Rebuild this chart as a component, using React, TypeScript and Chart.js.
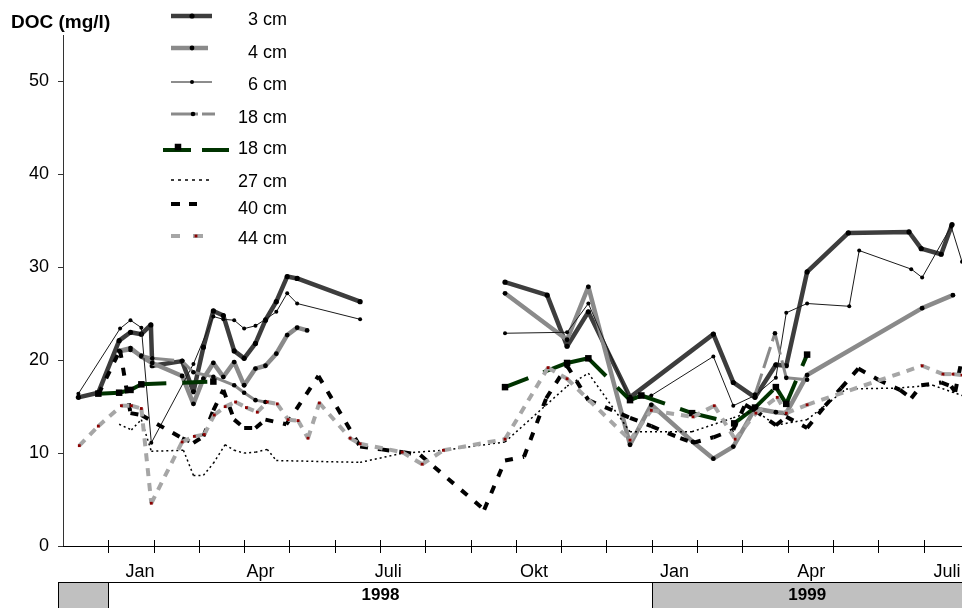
import React, { useEffect, useRef } from 'react';
import { Chart, registerables } from 'chart.js';

Chart.register(...registerables);

const FONT = 'Arial, "Liberation Sans", Helvetica, sans-serif';

// x = months after 1 Dec 1997 (1 = 1 Jan 1998, 13 = 1 Jan 1999); null y = gap
const cm3X = [0.34, 0.78, 1.24, 1.49, 1.73, 1.94, 1.97, 2.63, 2.88, 3.10, 3.32, 3.54, 3.78, 4.00, 4.25, 4.47, 4.71, 4.95, 5.17, 6.56, 8.0, 9.76, 10.69, 11.13, 11.60, 12.52, 14.36, 14.80, 15.28, 15.74, 15.97, 16.43, 17.34, 18.68, 18.95, 19.39, 19.63];
const cm3Y = [16.0, 16.5, 22.1, 23.0, 22.8, 23.8, 19.4, 19.9, 16.6, 21.4, 25.3, 24.8, 21.0, 20.2, 21.8, 24.3, 26.3, 29.0, 28.8, 26.3, null, 28.4, 27.0, 21.5, 25.2, 16.0, 22.8, 17.6, 16.0, 19.5, 19.4, 29.5, 33.7, 33.8, 32.0, 31.4, 34.6];

const cm4X = [1.24, 1.49, 1.73, 1.97, 2.63, 2.88, 3.10, 3.32, 3.54, 3.78, 4.00, 4.25, 4.47, 4.71, 4.95, 5.17, 5.39, 8.0, 9.76, 11.13, 11.60, 12.52, 12.99, 13.91, 14.36, 14.80, 15.28, 15.74, 15.97, 16.43, 18.97, 19.65];
const cm4Y = [21.0, 21.3, 20.4, 19.7, 18.3, 15.3, 18.0, 19.7, 18.2, 19.8, 17.3, 19.1, 19.4, 20.7, 22.7, 23.5, 23.2, null, 27.2, 22.2, 27.9, 10.9, 15.2, 11.2, 9.4, 10.7, 14.8, 14.4, 14.3, 18.4, 25.6, 27.0];

const cm6X = [0.34, 1.26, 1.49, 1.73, 1.95, 2.88, 3.32, 3.54, 3.78, 4.00, 4.25, 4.47, 4.71, 4.95, 5.17, 6.56, 8.0, 9.76, 11.13, 11.60, 12.52, 12.99, 14.36, 14.80, 15.28, 15.74, 15.97, 16.43, 17.36, 17.58, 18.73, 18.97, 19.61, 19.85];
const cm6Y = [16.4, 23.4, 24.3, 23.5, 11.1, 19.6, 24.7, 24.4, 24.3, 23.4, 23.7, 24.4, 25.2, 27.2, 26.1, 24.4, null, 22.9, 23.0, 26.1, 15.7, 16.2, 20.4, 15.1, 16.2, 18.1, 25.1, 26.1, 25.8, 31.8, 29.8, 28.9, 34.4, 30.6];

const cm18aX = [1.26, 1.49, 1.73, 1.97, 2.63, 2.88, 3.32, 3.78, 4.00, 4.25, 4.47, 10.0, 15.28, 15.72, 15.97, 16.43];
const cm18aY = [20.9, 21.1, 20.5, 20.2, 19.9, 18.7, 18.2, 17.3, 16.5, 15.7, 15.5, null, 16.3, 22.9, 18.1, 17.9];

const cm18bX = [0.78, 1.24, 1.49, 1.73, 3.32, 6.5, 9.76, 11.13, 11.60, 12.52, 12.77, 13.89, 14.82, 15.28, 15.74, 15.97, 16.43];
const cm18bY = [16.4, 16.5, 16.8, 17.4, 17.7, null, 17.1, 19.7, 20.2, 15.7, 16.2, 14.3, 13.2, 14.9, 17.1, 15.3, 20.6];

const cm27X = [1.24, 1.51, 1.73, 1.95, 2.66, 2.88, 3.10, 3.32, 3.58, 3.78, 4.00, 4.25, 4.51, 4.71, 6.56, 7.51, 8.40, 9.76, 11.13, 11.60, 12.52, 13.89, 14.80, 15.28, 15.74, 16.43, 17.29, 18.42, 19.21, 19.85];
const cm27Y = [13.1, 12.5, 13.6, 10.2, 10.3, 7.6, 7.6, 8.9, 10.9, 10.3, 10.0, 10.1, 10.4, 9.2, 9.0, 10.0, 10.3, 11.2, 17.2, 18.6, 12.3, 12.3, 13.8, 14.6, 13.0, 13.6, 16.9, 17.0, 17.3, 16.2];

const cm40X = [0.78, 1.26, 1.49, 1.73, 2.63, 2.88, 3.10, 3.32, 3.54, 3.78, 4.00, 4.25, 4.47, 4.93, 5.64, 6.56, 7.03, 7.51, 7.89, 9.30, 9.76, 10.18, 10.67, 11.13, 11.60, 12.52, 12.99, 13.63, 13.91, 14.36, 14.80, 15.06, 15.28, 15.74, 15.97, 16.43, 16.83, 17.18, 17.56, 18.00, 18.48, 18.73, 18.95, 19.39, 19.61, 19.70, 19.85];
const cm40Y = [16.3, 21.1, 14.3, 14.1, 11.6, 11.1, 11.8, 14.6, 16.8, 13.6, 12.7, 12.7, 13.6, 13.1, 18.3, 10.7, 10.4, 10.1, 9.8, 3.9, 9.2, 9.6, 15.9, 19.4, 15.7, 13.8, 12.9, 11.6, 11.1, 11.7, 12.5, 15.2, 14.6, 13.0, 13.9, 12.7, 15.1, 17.0, 19.1, 17.9, 16.8, 15.9, 17.3, 17.6, 17.2, 16.6, 20.2];

const cm44X = [0.36, 0.78, 1.29, 1.51, 1.73, 1.95, 2.63, 2.90, 3.12, 3.34, 3.58, 3.81, 4.05, 4.29, 4.51, 4.73, 4.97, 5.19, 5.41, 5.66, 6.34, 6.56, 7.49, 7.93, 8.40, 9.76, 10.71, 11.13, 12.52, 12.99, 13.91, 14.38, 14.84, 15.30, 15.77, 15.97, 16.43, 18.97, 19.43, 19.65, 19.85];
const cm44Y = [10.8, 12.9, 15.1, 15.1, 14.8, 4.6, 11.2, 11.8, 12.0, 14.1, 15.0, 15.5, 14.9, 14.4, 15.5, 15.3, 13.6, 13.5, 11.6, 15.4, 11.6, 11.0, 10.1, 8.8, 10.3, 11.5, 19.2, 18.0, 11.4, 14.6, 13.9, 15.1, 11.5, 14.3, 16.0, 14.3, 15.2, 19.4, 18.5, 18.5, 18.4];

const seriesLabels = ['3 cm', '4 cm', '6 cm', '18 cm', '18 cm', '27 cm', '40 cm', '44 cm'];
const seriesX = [cm3X, cm4X, cm6X, cm18aX, cm18bX, cm27X, cm40X, cm44X];
const seriesY = [cm3Y, cm4Y, cm6Y, cm18aY, cm18bY, cm27Y, cm40Y, cm44Y];

const yTicks = [0, 10, 20, 30, 40, 50];
const monthLabels = ['Jan', 'Apr', 'Juli', 'Okt', 'Jan', 'Apr', 'Juli'];
const monthLabelPos = [1.70, 4.36, 7.18, 10.40, 13.50, 16.52, 19.52];
const yearLabels = ['', '1998', '1999'];
const yearStart = [-0.1, 1, 13];
const yearEnd = [1, 13, 19.85];
const X_MIN = 0;
const X_MAX = 19.85;
const Y_MAX = 55;

const styles = [
  { color: '#3d3d3d', width: 4.5, dash: [], pointStyle: 'circle', r: 2.6, pc: '#000' },
  { color: '#8a8a8a', width: 4.5, dash: [], pointStyle: 'circle', r: 2.4, pc: '#000' },
  { color: '#1a1a1a', width: 1, dash: [], pointStyle: 'circle', r: 2, pc: '#000' },
  { color: '#8a8a8a', width: 3, dash: [22, 6], pointStyle: 'circle', r: 2.3, pc: '#000' },
  { color: '#003300', width: 4, dash: [25, 16], pointStyle: 'rect', r: 4.6, pc: '#000' },
  { color: '#000000', width: 1.5, dash: [2, 3], pointStyle: 'circle', r: 0, pc: '#000' },
  { color: '#000000', width: 4, dash: [8, 10], pointStyle: 'circle', r: 0, pc: '#000' },
  { color: '#a6a6a6', width: 4, dash: [8, 7], pointStyle: 'rect', r: 2, pc: '#8b0000' },
];

// legend layout
const legRowY = [16, 48, 82, 114, 150, 180, 204, 236];
const legTextY = [20, 53, 85, 118, 149, 182, 209, 239];
const legPieces = [
  [[171, 212]], [[171, 208]], [[171, 212]], [[171, 198], [202, 215]],
  [[163, 191], [202, 229]], [[171, 212]], [[171, 180], [189, 197]], [[171, 180], [193, 203]],
];
const legMarkX = [192, 192, 192, 193, 178, 0, 0, 196];

function drawMarker(ctx, st, x, y) {
  if (!st.r) return;
  ctx.save();
  ctx.fillStyle = st.pc;
  if (st.pointStyle === 'rect') {
    const s = st.r * Math.SQRT1_2;
    ctx.fillRect(x - s, y - s, 2 * s, 2 * s);
  } else {
    ctx.beginPath();
    ctx.arc(x, y, st.r, 0, Math.PI * 2);
    ctx.fill();
  }
  ctx.restore();
}

const decorPlugin = {
  id: 'decor',
  afterDraw(chart) {
    const ctx = chart.ctx;
    const xs = chart.scales.x;
    const { left, right, bottom } = chart.chartArea;
    ctx.save();
    // x axis
    ctx.strokeStyle = '#000';
    ctx.lineWidth = 1;
    ctx.setLineDash([]);
    ctx.beginPath();
    ctx.moveTo(left, bottom + 0.5);
    ctx.lineTo(right, bottom + 0.5);
    ctx.stroke();
    for (let m = 1; m <= Math.floor(X_MAX); m++) {
      const px = Math.round(xs.getPixelForValue(m)) + 0.5;
      ctx.beginPath();
      ctx.moveTo(px, bottom - 6);
      ctx.lineTo(px, bottom + 7);
      ctx.stroke();
    }
    ctx.fillStyle = '#000';
    ctx.font = `18px ${FONT}`;
    ctx.textAlign = 'center';
    ctx.textBaseline = 'middle';
    monthLabels.forEach((t, i) => {
      ctx.fillText(t, xs.getPixelForValue(monthLabelPos[i]), bottom + 26);
    });
    // year band
    const bandTop = bottom + 36.5;
    const bandBot = chart.height + 1;
    ctx.font = `bold 17px ${FONT}`;
    yearLabels.forEach((t, i) => {
      const x0 = Math.round(xs.getPixelForValue(yearStart[i])) + 0.5;
      const x1 = Math.min(Math.round(xs.getPixelForValue(yearEnd[i])) + 0.5, chart.width + 1);
      ctx.fillStyle = i === 1 ? '#ffffff' : '#c0c0c0';
      ctx.fillRect(x0, bandTop, x1 - x0, bandBot - bandTop);
      ctx.strokeStyle = '#000';
      ctx.strokeRect(x0, bandTop, x1 - x0, bandBot - bandTop);
      if (t) {
        ctx.fillStyle = '#000';
        ctx.fillText(t, (x0 + Math.min(x1, chart.width)) / 2, bandTop + 13);
      }
    });
    // title
    ctx.font = `bold 19px ${FONT}`;
    ctx.textAlign = 'left';
    ctx.fillStyle = '#000';
    ctx.fillText('DOC (mg/l)', 11, 23);
    // legend
    ctx.font = `18px ${FONT}`;
    ctx.textAlign = 'right';
    seriesLabels.forEach((lab, i) => {
      const st = styles[i];
      ctx.strokeStyle = st.color;
      ctx.lineWidth = st.width;
      ctx.lineCap = 'butt';
      ctx.setLineDash(i === 5 ? [3, 4] : []);
      legPieces[i].forEach(([a, b]) => {
        ctx.beginPath();
        ctx.moveTo(a, legRowY[i]);
        ctx.lineTo(b, legRowY[i]);
        ctx.stroke();
      });
      ctx.setLineDash([]);
      if (legMarkX[i]) drawMarker(ctx, st, legMarkX[i], i === 4 ? legRowY[i] - 3 : legRowY[i]);
      ctx.fillStyle = '#000';
      ctx.fillText(lab, 287, legTextY[i]);
    });
    ctx.restore();
  },
};

export default function App() {
  const ref = useRef(null);
  useEffect(() => {
    document.body.style.margin = '0';
    const n = seriesLabels.length;
    const datasets = seriesLabels.map((label, i) => {
      const st = styles[i];
      const dashed = st.dash.length > 0;
      return {
        label,
        data: seriesX[i].map((x, k) => ({ x, y: seriesY[i][k] })),
        borderColor: st.color,
        borderWidth: st.width,
        borderDash: st.dash,
        borderCapStyle: 'butt',
        borderJoinStyle: dashed ? 'miter' : 'round',
        pointStyle: st.pointStyle,
        pointRadius: st.r,
        pointBackgroundColor: st.pc,
        pointBorderWidth: 0,
        pointHoverRadius: st.r,
        fill: false,
        tension: 0,
        spanGaps: false,
        order: n - i,
        segment: dashed
          ? { borderDashOffset: (c) => (c.p0DataIndex % 2 ? 0.001 : 0) }
          : undefined,
      };
    });
    const chart = new Chart(ref.current, {
      type: 'line',
      data: { datasets },
      options: {
        responsive: false,
        animation: false,
        devicePixelRatio: 1,
        events: [],
        layout: { autoPadding: false, padding: { top: 35, right: 0, bottom: 62, left: 0 } },
        plugins: { legend: { display: false }, tooltip: { enabled: false } },
        scales: {
          x: { type: 'linear', min: X_MIN, max: X_MAX, display: false },
          y: {
            type: 'linear',
            min: 0,
            max: Y_MAX,
            afterFit: (s) => { s.width = 63; },
            afterBuildTicks: (s) => { s.ticks = yTicks.map((v) => ({ value: v })); },
            ticks: { font: { family: FONT, size: 18 }, color: '#000', padding: 9 },
            grid: { drawOnChartArea: false, drawTicks: true, tickLength: 5, color: '#333' },
            border: { display: true, color: '#333', width: 1 },
          },
        },
      },
      plugins: [decorPlugin],
    });
    return () => chart.destroy();
  }, []);
  return (
    <div style={{ width: 962, height: 608 }}>
      <canvas ref={ref} width={962} height={608} style={{ display: 'block' }} />
    </div>
  );
}
